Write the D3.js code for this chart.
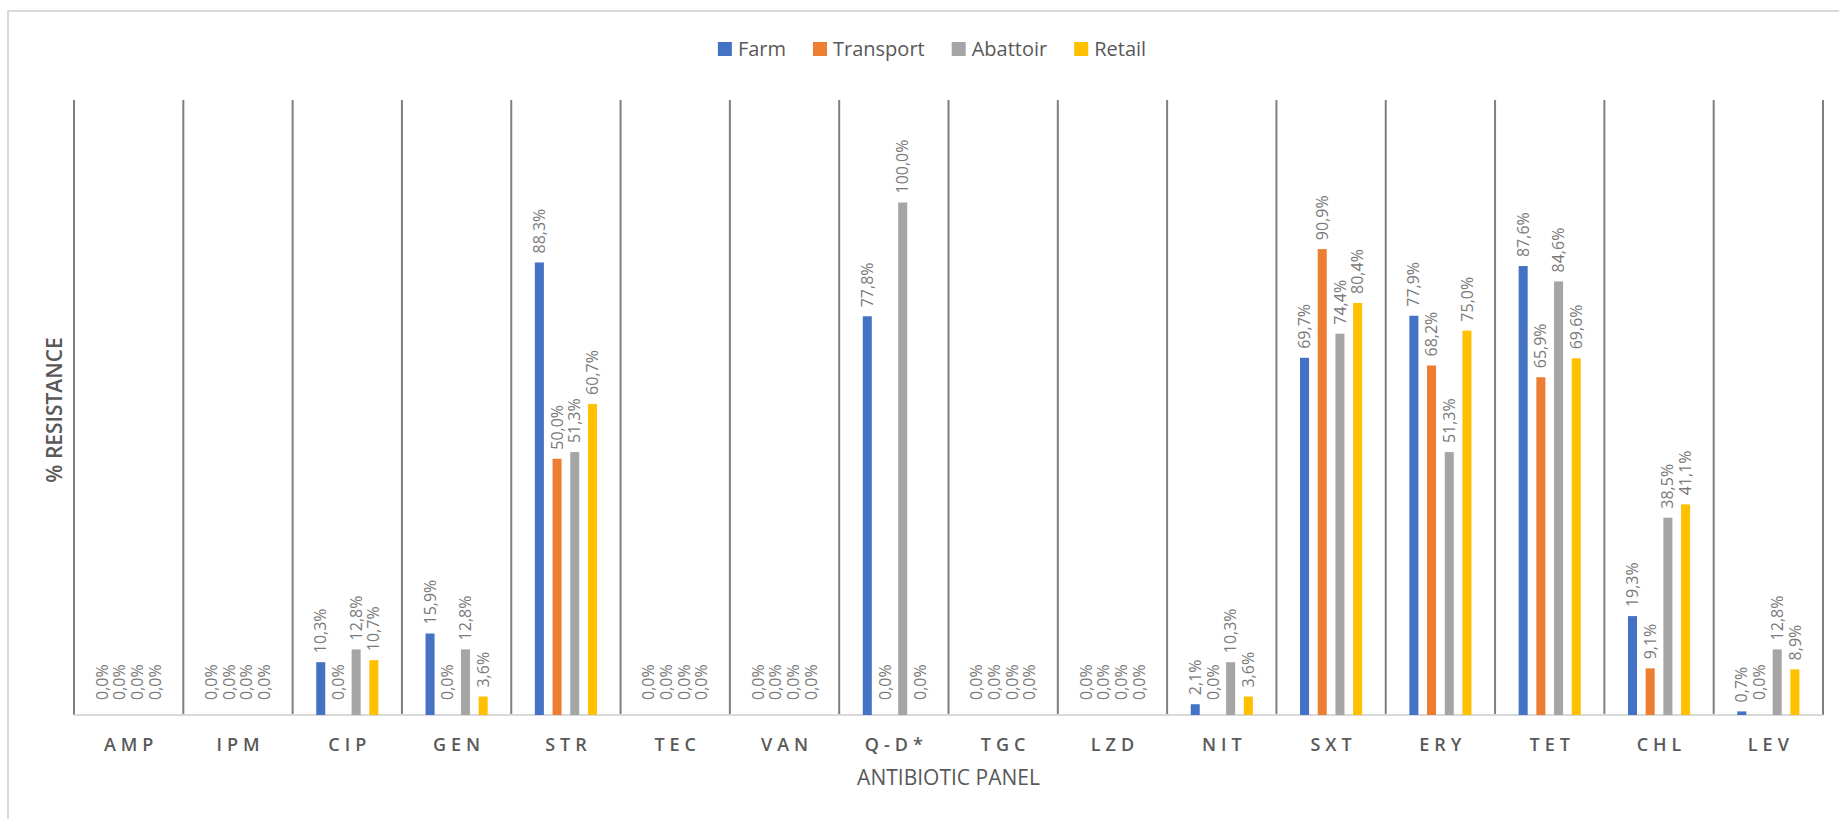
<!DOCTYPE html>
<html lang="en">
<head>
    <meta charset="UTF-8">
    <title>Antibiotic resistance</title>
    <script src="https://d3js.org/d3.v7.min.js"></script>
</head>
<style>
    body { margin: 0; background: #fff; }
    text { font-family: "Open Sans", "Noto Sans", sans-serif; fill: #595959; }
    .cat text { font-size: 18px; font-weight: 600; letter-spacing: 5px; }
    .lbl { font-size: 16px; fill: #7a7a7a; }
</style>
<body>
    <svg width="1839" height="819"></svg>
</body>
<script>
var categories = ["AMP", "IPM", "CIP", "GEN", "STR", "TEC", "VAN", "Q-D*", "TGC", "LZD", "NIT", "SXT", "ERY", "TET", "CHL", "LEV"];
var seriesNames = ["Farm", "Transport", "Abattoir", "Retail"];
var colors = ["#4472C4", "#ED7D31", "#A5A5A5", "#FFC000"];

var farm      = [0, 0, 10.3, 15.9, 88.3, 0, 0, 77.8, 0, 0, 2.1, 69.7, 77.9, 87.6, 19.3, 0.7];
var transport = [0, 0, 0, 0, 50.0, 0, 0, 0, 0, 0, 0, 90.9, 68.2, 65.9, 9.1, 0];
var abattoir  = [0, 0, 12.8, 12.8, 51.3, 0, 0, 100.0, 0, 0, 10.3, 74.4, 51.3, 84.6, 38.5, 12.8];
var retail    = [0, 0, 10.7, 3.6, 60.7, 0, 0, 0, 0, 0, 3.6, 80.4, 75.0, 69.6, 41.1, 8.9];
var values = [farm, transport, abattoir, retail];

var svg = d3.select("svg");

// chart frame
svg.append("rect")
   .attr("x", 8).attr("y", 11)
   .attr("width", 1850).attr("height", 820)
   .attr("fill", "none")
   .attr("stroke", "#d9d9d9")
   .attr("stroke-width", 2);

var x0 = d3.scaleBand().domain(categories).range([74, 1823]);
var groupW = 70.8;
var x1 = d3.scaleBand().domain(seriesNames).range([0, groupW]).paddingInner(0.49).paddingOuter(0.245);
var y = d3.scaleLinear().domain([0, 120]).range([715, 100]);
var midX = (x0.range()[0] + x0.range()[1]) / 2;

// vertical separators between categories
var edges = categories.map(function(c) { return x0(c); }).concat([x0.range()[1]]);
svg.append("g").selectAll("line")
   .data(edges)
   .enter().append("line")
   .attr("x1", function(d) { return d; })
   .attr("x2", function(d) { return d; })
   .attr("y1", y(120))
   .attr("y2", y(0))
   .attr("stroke", "#7f7f7f")
   .attr("stroke-width", 2);

// baseline
svg.append("line")
   .attr("x1", x0.range()[0]).attr("x2", x0.range()[1])
   .attr("y1", y(0)).attr("y2", y(0))
   .attr("stroke", "#d9d9d9")
   .attr("stroke-width", 2);

var rows = [];
categories.forEach(function(c, i) {
    seriesNames.forEach(function(s, j) {
        rows.push({ cat: c, s: s, j: j, v: values[j][i] });
    });
});

function barX(d) {
    return x0(d.cat) + (x0.bandwidth() - groupW) / 2 + x1(d.s);
}

svg.append("g").selectAll("rect")
   .data(rows.filter(function(d) { return d.v > 0; }))
   .enter().append("rect")
   .attr("x", barX)
   .attr("y", function(d) { return y(d.v); })
   .attr("width", x1.bandwidth())
   .attr("height", function(d) { return y(0) - y(d.v); })
   .attr("fill", function(d) { return colors[d.j]; });

var fmt = d3.format(".1f");
svg.append("g").selectAll("text")
   .data(rows)
   .enter().append("text")
   .attr("class", "lbl")
   .attr("transform", function(d) {
       var cx = barX(d) + x1.bandwidth() / 2;
       var cy = y(d.v) - (d.v > 0 ? 9 : 15);
       return "translate(" + cx + "," + cy + ") rotate(-90)";
   })
   .attr("dy", "0.35em")
   .text(function(d) { return fmt(d.v).replace(".", ",") + "%"; });

// category axis
var axisX = d3.axisBottom(x0).tickSize(0).tickPadding(23);
svg.append("g")
   .attr("class", "cat")
   .attr("transform", "translate(2.5," + y(0) + ")")
   .call(axisX)
   .call(function(g) { g.select(".domain").remove(); })
   .selectAll("text")
   .attr("fill", "#595959")
   .style("font-family", "\"Open Sans\", sans-serif");

// axis titles
svg.append("text")
   .attr("x", midX).attr("y", 778)
   .attr("text-anchor", "middle")
   .attr("dy", "0.35em")
   .style("font-size", "21px")
   .text("ANTIBIOTIC PANEL");

svg.append("text")
   .attr("transform", "translate(55,410) rotate(-90)")
   .attr("text-anchor", "middle")
   .attr("dy", "0.35em")
   .style("font-size", "21px")
   .style("font-weight", "600")
   .text("% RESISTANCE");

// legend
var legend = svg.append("g");
var lx = 0;
var gap = 27;
seriesNames.forEach(function(s, j) {
    var item = legend.append("g").attr("transform", "translate(" + lx + ",0)");
    item.append("rect")
        .attr("x", 0).attr("y", -7)
        .attr("width", 14).attr("height", 14)
        .attr("fill", colors[j]);
    var t = item.append("text")
        .attr("x", 20).attr("dy", "0.35em")
        .style("font-size", "20px")
        .text(s);
    lx += 20 + t.node().getComputedTextLength() + gap;
});
lx -= gap;
legend.attr("transform", "translate(" + (932 - lx / 2) + ",49)");
</script>
</html>
